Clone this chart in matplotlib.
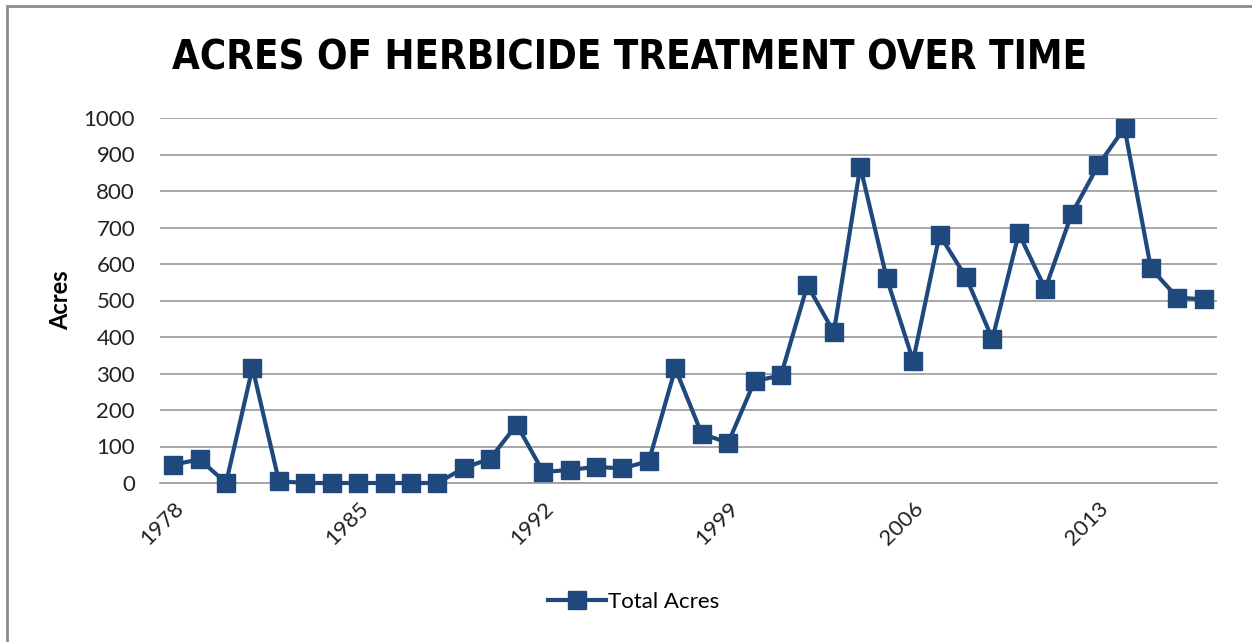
import matplotlib
matplotlib.use("Agg")
import matplotlib.pyplot as plt
from matplotlib.lines import Line2D
from matplotlib.patches import Rectangle
from matplotlib import font_manager

years = list(range(1978, 2018))
total_acres = [50, 65, 0, 316, 5, 0, 0, 0, 0, 0, 0, 41, 67, 160,
               30, 36, 44, 40, 60, 314, 135, 110, 279, 295, 542, 413,
               867, 561, 335, 680, 564, 395, 684, 532, 737, 870, 973,
               588, 508, 503]
title = "ACRES OF HERBICIDE TREATMENT OVER TIME"
y_label = "Acres"
series_name = "Total Acres"
y_ticks = [0, 100, 200, 300, 400, 500, 600, 700, 800, 900, 1000]

color = "#1f497d"
font = ["Lato", "DejaVu Sans"]

cond = [f for f in font_manager.fontManager.ttflist
        if "Condensed" in f.fname or "Narrow" in f.fname]
cand = [f for f in cond if "Bold" in f.fname and "Oblique" not in f.fname and "Italic" not in f.fname]
if cand:
    title_kw = dict(fontproperties=font_manager.FontProperties(fname=cand[0].fname, size=28.8))
else:
    title_kw = dict(fontsize=25, fontweight="bold", family=font)

W, H = 1252, 642
fig = plt.figure(figsize=(W / 100, H / 100), dpi=100)
ax = fig.add_axes([160 / W, 1 - 483 / H, (1217 - 160) / W, (483 - 118) / H])

x = list(range(len(years)))
ax.plot(x, total_acres, color=color, lw=3.0, marker="s", markersize=13.5,
        markerfacecolor=color, markeredgecolor=color, clip_on=False, zorder=3)

ax.set_xlim(-0.5, len(years) - 0.5)
ax.set_ylim(0, 1000)
ax.set_yticks(y_ticks)
ax.set_yticklabels([str(v) for v in y_ticks], fontsize=16, family=font, color="#222222")
ax.grid(axis="y", color="#a0a0a0", lw=1.3)
ax.set_axisbelow(True)
for s in ["top", "right", "left"]:
    ax.spines[s].set_visible(False)
ax.spines["bottom"].set_color("#a0a0a0")
ax.spines["bottom"].set_linewidth(1.3)
ax.tick_params(axis="y", length=0, pad=18)
ax.tick_params(axis="x", length=0, pad=11)

tick_idx = list(range(0, len(years), 7))
ax.set_xticks(tick_idx)
ax.set_xticklabels([str(years[i]) for i in tick_idx], rotation=45, ha="right",
                   rotation_mode="anchor", fontsize=16, family=font, color="#222222")

ax.set_ylabel(y_label, fontsize=17, fontweight="bold", family=font, labelpad=8)

fig.text(630 / W, 1 - 59 / H, title, ha="center", va="center", **title_kw)

handle = Line2D([], [], color=color, lw=3.0, marker="s", markersize=13.5)
fig.legend([handle], [series_name], loc="center", bbox_to_anchor=(634 / W, 1 - 602 / H),
           frameon=False, prop={"family": font, "size": 16}, handlelength=2.6,
           handletextpad=0.1)

fig.add_artist(Rectangle((7 / W, -0.1), 1.2, 1 - 6 / H + 0.1, transform=fig.transFigure,
                         fill=False, edgecolor="#8c8c8c", lw=2))

fig.savefig("out.png", dpi=100, facecolor="white")
